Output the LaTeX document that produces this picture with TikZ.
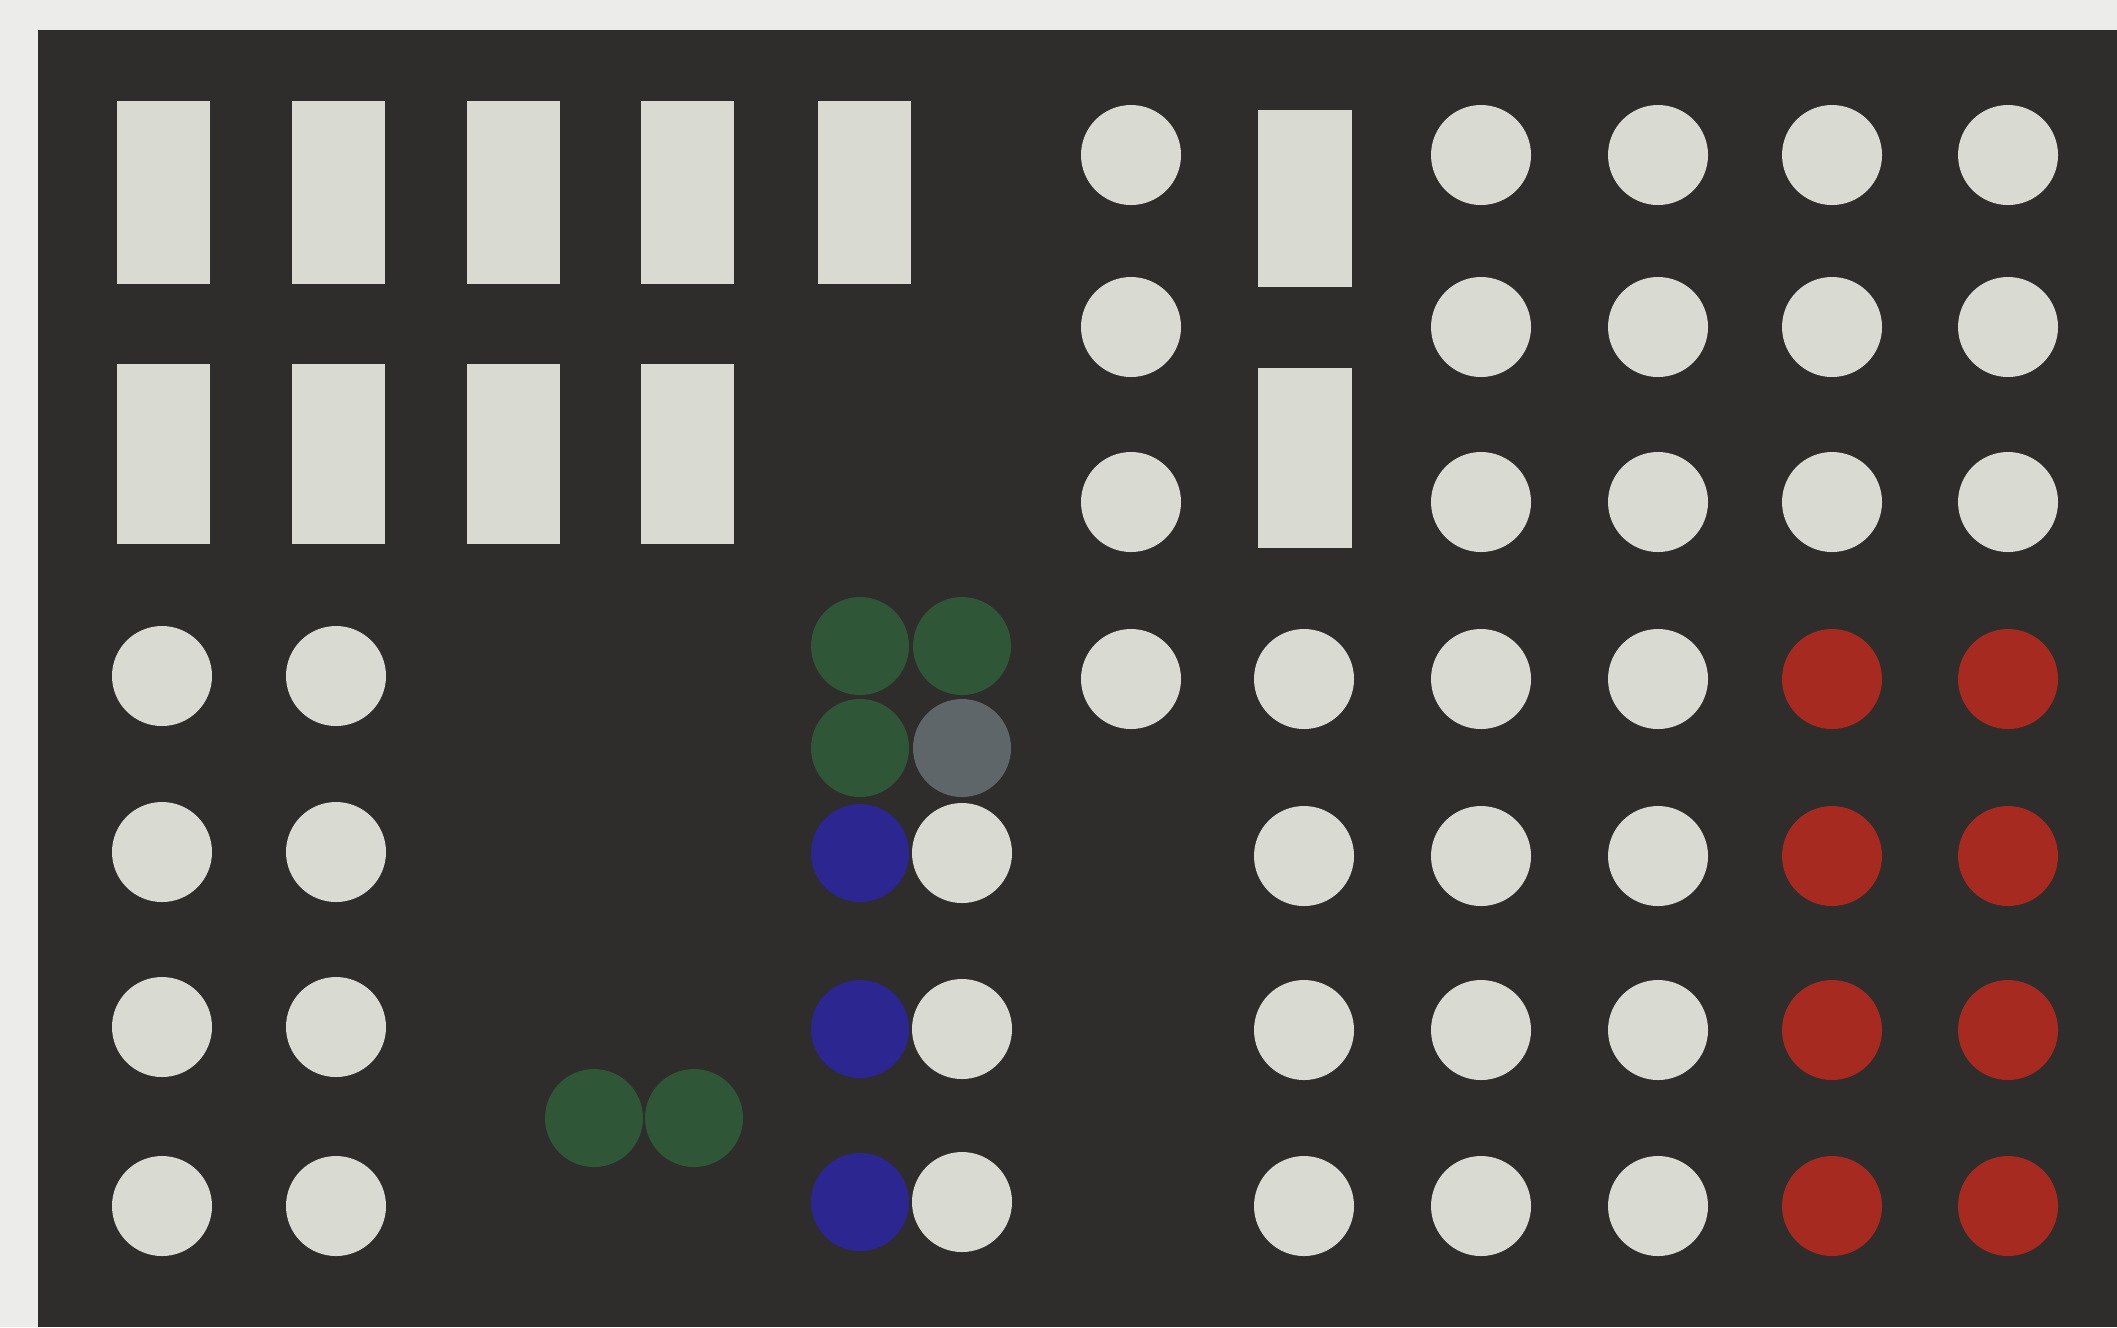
\documentclass[tikz,border=0pt]{standalone}
\usepackage{xcolor}
\definecolor{bbPaper}{HTML}{ECECEA}
\definecolor{bbBoard}{HTML}{2E2D2B}
\definecolor{bbWhite}{HTML}{D9DBD3}
\definecolor{bbGreen}{HTML}{2F5636}
\definecolor{bbGray}{HTML}{5F6669}
\definecolor{bbBlue}{HTML}{2B2690}
\definecolor{bbRed}{HTML}{A62A1F}
\tikzset{
    whitedot/.style={fill=bbWhite},
    greendot/.style={fill=bbGreen},
    graydot/.style={fill=bbGray},
    bluedot/.style={fill=bbBlue},
    reddot/.style={fill=bbRed},
    bar/.style={fill=bbWhite}
}

\begin{document}
\begin{tikzpicture}[x=1cm,y=-1cm]

    % paper and board
    \fill[bbPaper] (0,0) rectangle (21.17,13.27);
    \useasboundingbox (0,0) rectangle (21.17,13.27);
    \fill[bbBoard] (0.38,0.30) rectangle (21.17,13.27);

    % bars, left block
    \foreach \x in {1.17,2.92,4.67,6.41,8.18}
        \fill[bar] (\x,1.01) rectangle ++(0.93,1.83);
    \foreach \x in {1.17,2.92,4.67,6.41}
        \fill[bar] (\x,3.64) rectangle ++(0.93,1.80);

    % bars, right block
    \fill[bar] (12.58,1.10) rectangle ++(0.94,1.77);
    \fill[bar] (12.58,3.68) rectangle ++(0.94,1.80);

    % white dots, left block
    \foreach \y in {6.76,8.52,10.27,12.06}
        \foreach \x in {1.62,3.36}
            \fill[whitedot] (\x,\y) circle (0.50);

    % middle column
    \fill[greendot] (8.60,6.46) circle (0.49);
    \fill[greendot] (9.62,6.46) circle (0.49);
    \fill[greendot] (8.60,7.48) circle (0.49);
    \fill[graydot] (9.62,7.48) circle (0.49);
    \foreach \y in {8.53,10.29,12.02} {
        \fill[bluedot] (8.60,\y) circle (0.49);
        \fill[whitedot] (9.62,\y) circle (0.50);
    }
    \fill[greendot] (5.94,11.18) circle (0.49);
    \fill[greendot] (6.94,11.18) circle (0.49);

    % white dots, right block
    \foreach \y in {1.55,3.27,5.02}
        \fill[whitedot] (11.31,\y) circle (0.50);
    \foreach \x in {14.81,16.58,18.32,20.08}
        \fill[whitedot] (\x,1.55) circle (0.50);
    \foreach \y in {3.27,5.02}
        \foreach \x in {14.81,16.58,18.32,20.08}
            \fill[whitedot] (\x,\y) circle (0.50);
    \foreach \x in {11.31,13.04,14.81,16.58}
        \fill[whitedot] (\x,6.79) circle (0.50);
    \foreach \y in {8.56,10.30,12.06}
        \foreach \x in {13.04,14.81,16.58}
            \fill[whitedot] (\x,\y) circle (0.50);

    % red dots
    \foreach \y in {6.79,8.56,10.30,12.06}
        \foreach \x in {18.32,20.08}
            \fill[reddot] (\x,\y) circle (0.50);

\end{tikzpicture}
\end{document}
